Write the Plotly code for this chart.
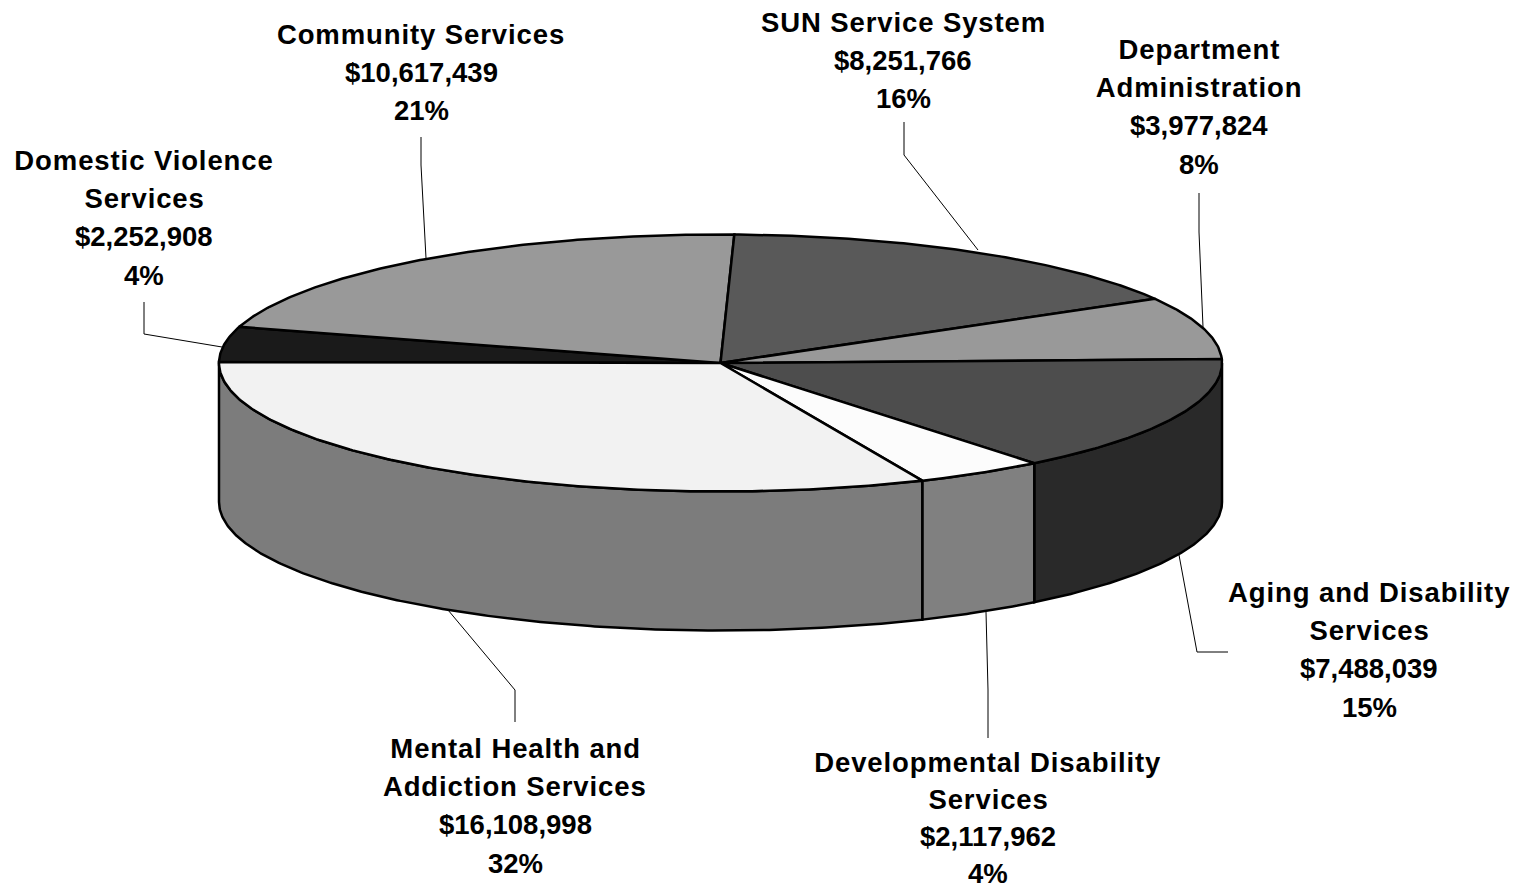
import numpy as np
import plotly.graph_objects as go

categories = ["Domestic Violence Services", "Community Services", "SUN Service System",
              "Department Administration", "Aging and Disability Services",
              "Developmental Disability Services", "Mental Health and Addiction Services"]
amounts = [2252908, 10617439, 8251766, 3977824, 7488039, 2117962, 16108998]
percent_labels = ["4%", "21%", "16%", "8%", "15%", "4%", "32%"]
name_lines = [["Domestic Violence", "Services"], ["Community Services"], ["SUN Service System"],
              ["Department", "Administration"], ["Aging and Disability", "Services"],
              ["Developmental Disability", "Services"], ["Mental Health and", "Addiction Services"]]
amount_labels = ["$2,252,908", "$10,617,439", "$8,251,766", "$3,977,824", "$7,488,039",
                 "$2,117,962", "$16,108,998"]
top_colors = ["#1a1a1a", "#999999", "#595959", "#999999", "#4d4d4d", "#fcfcfc", "#f2f2f2"]
side_colors = ["#333333", "#7f7f7f", "#444444", "#7f7f7f", "#292929", "#808080", "#7c7c7c"]

# geometry (pixels of the picture)
CX, CY, RX, RY, DEPTH = 720.5, 363.0, 501.5, 128.5, 139.0
START_DEG = 179.6
label_x = [144, 421, 903, 1199, 1369, 988, 515]
label_y0 = [160, 34, 22, 49, 592, 762, 748]
label_step = [38.4, 38.4, 38.4, 38.4, 38.4, 37.0, 38.4]
leaders = [[(144, 302), (144, 334), (222, 347)],
           [(421, 137), (421, 165), (426, 258)],
           [(904, 122), (904, 155), (978, 250)],
           [(1199, 193), (1199, 232), (1203, 327)],
           [(1228, 652), (1197, 652), (1179, 555)],
           [(988, 738), (988, 690), (986, 612)],
           [(515, 722), (515, 690), (448, 610)]]


def ell(deg, dy=0.0):
    t = np.radians(deg)
    return CX + RX * np.cos(t), CY - RY * np.sin(t) + dy


shares = np.array(amounts, dtype=float) / sum(amounts) * 360.0
ends = START_DEG - np.cumsum(shares)
starts = ends + shares

fig = go.Figure()


def polygon(xs, ys, fill, width=2.5):
    fig.add_trace(go.Scatter(x=xs, y=ys, mode="lines", fill="toself", fillcolor=fill,
                             line=dict(color="black", width=width), hoverinfo="skip",
                             showlegend=False))


# side wall: only the part of each slice on the near half of the ellipse
for a, b, col in zip(starts, ends, side_colors):
    hi = min(a, 0.0)
    lo = max(b, -180.0)
    if hi <= lo:
        continue
    d = np.linspace(hi, lo, max(2, int((hi - lo) * 2)))
    x1, y1 = ell(d)
    x2, y2 = ell(d[::-1], DEPTH)
    polygon(np.r_[x1, x2, x1[0]], np.r_[y1, y2, y1[0]], col)

# top face
for a, b, col in zip(starts, ends, top_colors):
    d = np.linspace(a, b, max(2, int((a - b) * 2)))
    x1, y1 = ell(d)
    polygon(np.r_[CX, x1, CX], np.r_[CY, y1, CY], col)

shapes = []
for pts in leaders:
    path = "M " + " L ".join(f"{x} {y}" for x, y in pts)
    shapes.append(dict(type="path", path=path, xref="x", yref="y",
                       line=dict(color="black", width=1), layer="above"))

annotations = []
for i in range(len(categories)):
    lines = name_lines[i] + [amount_labels[i], percent_labels[i]]
    for k, txt in enumerate(lines):
        annotations.append(dict(x=label_x[i], y=label_y0[i] + k * label_step[i], text=f"<b>{txt}</b>",
                                showarrow=False, xref="x", yref="y", xanchor="center",
                                yanchor="middle",
                                font=dict(family="Liberation Sans, Arial, sans-serif", size=27.5,
                                          color="black")))

fig.update_layout(width=1520, height=889, margin=dict(l=0, r=0, t=0, b=0),
                  paper_bgcolor="white", plot_bgcolor="white", showlegend=False,
                  xaxis=dict(range=[0, 1520], visible=False, fixedrange=True),
                  yaxis=dict(range=[889, 0], visible=False, fixedrange=True),
                  shapes=shapes, annotations=annotations)

post = """
document.body.style.margin='0';
document.querySelectorAll('.annotation-text').forEach(function(t){
  if(/[A-Za-z]/.test(t.textContent)){t.style.letterSpacing='0.9px';}
});
"""
fig.write_html("out.html", post_script=post, config=dict(displayModeBar=False))
